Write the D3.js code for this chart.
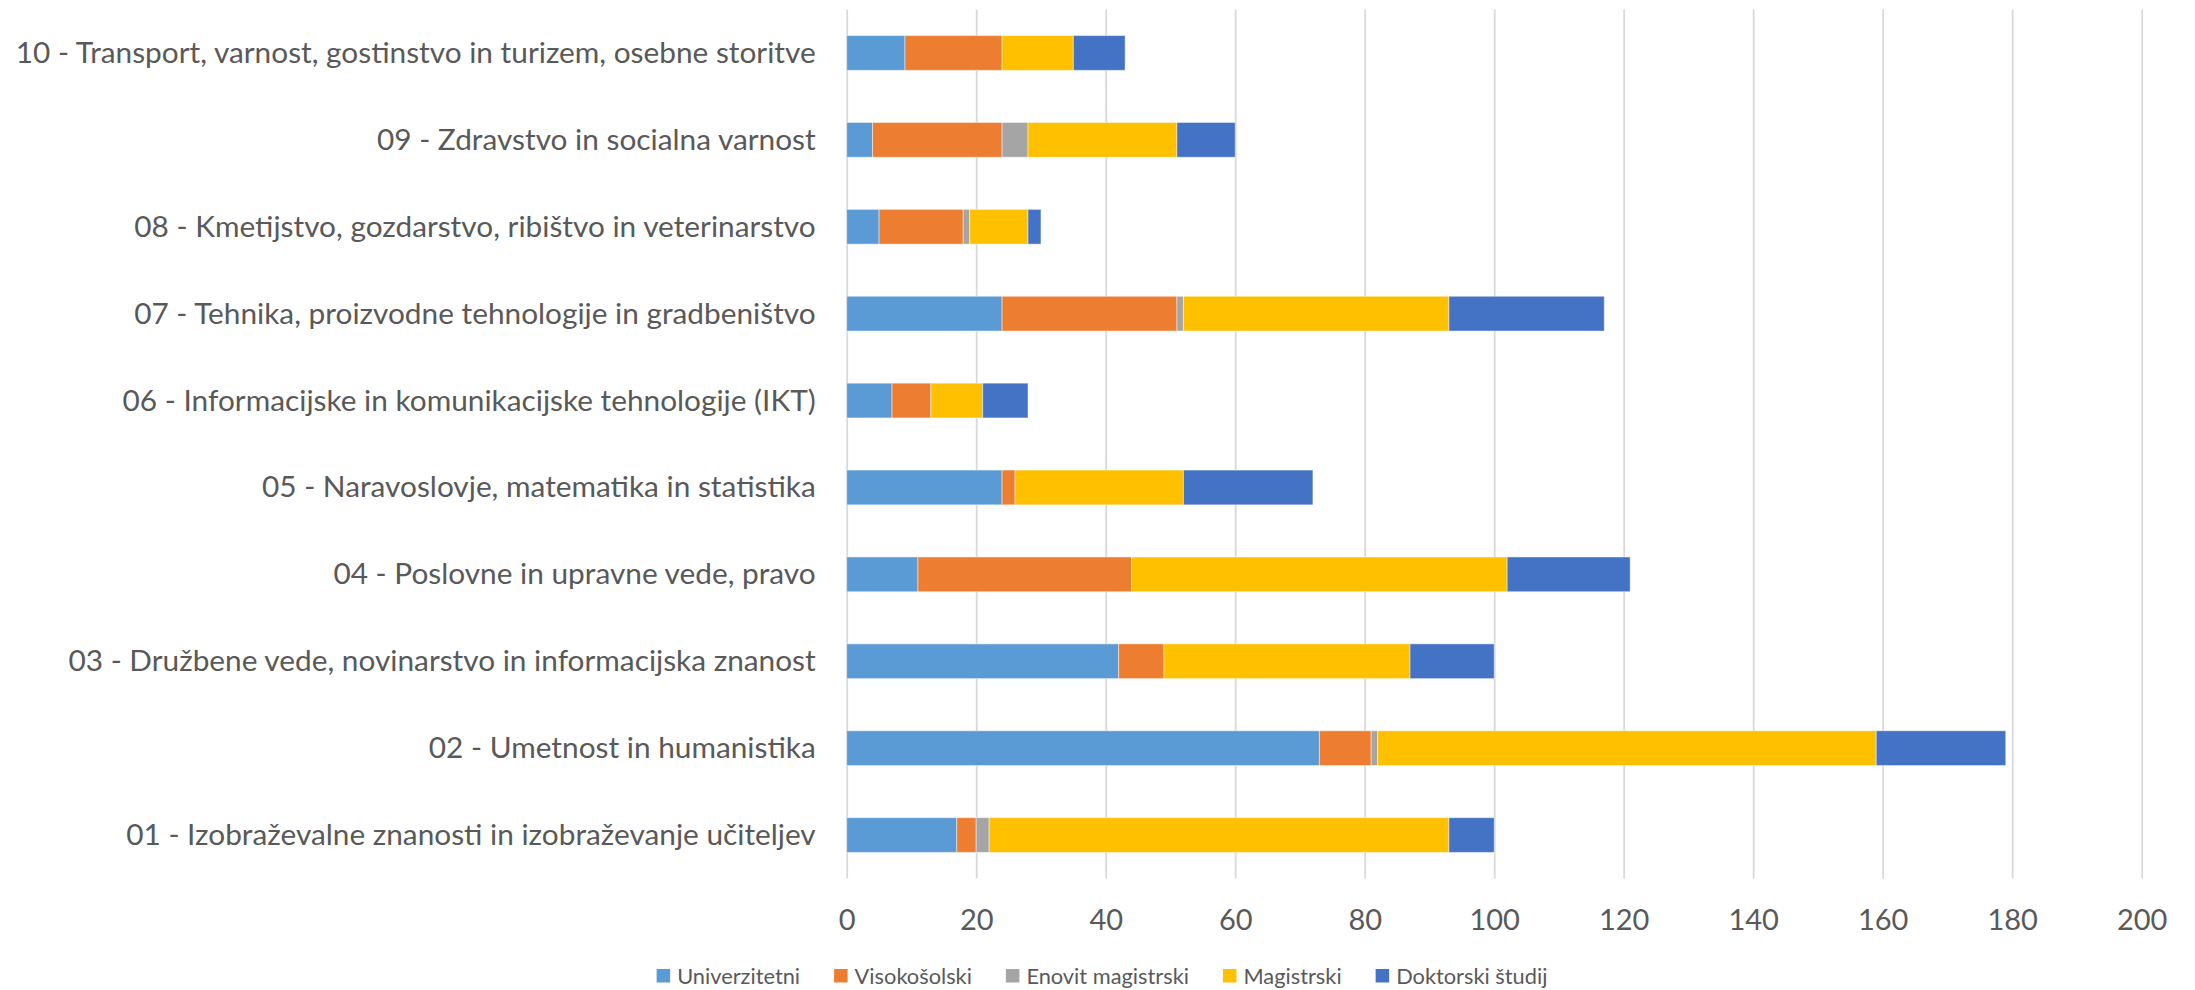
<!DOCTYPE html>
<html>
<head>
<meta charset="utf-8">
<script src="https://cdn.jsdelivr.net/npm/d3@7/dist/d3.min.js"></script>
<style>
  html, body { margin: 0; padding: 0; background: #ffffff; }
  svg { display: block; }
  text { font-family: Lato, "Open Sans", sans-serif; fill: #595959; }
</style>
</head>
<body>
<svg id="chart" width="2195" height="990"></svg>
<script>
const categories = [
  "01 - Izobraževalne znanosti in izobraževanje učiteljev",
  "02 - Umetnost in humanistika",
  "03 - Družbene vede, novinarstvo in informacijska znanost",
  "04 - Poslovne in upravne vede, pravo",
  "05 - Naravoslovje, matematika in statistika",
  "06 - Informacijske in komunikacijske tehnologije (IKT)",
  "07 - Tehnika, proizvodne tehnologije in gradbeništvo",
  "08 - Kmetijstvo, gozdarstvo, ribištvo in veterinarstvo",
  "09 - Zdravstvo in socialna varnost",
  "10 - Transport, varnost, gostinstvo in turizem, osebne storitve"
];
const seriesNames = ["Univerzitetni", "Visokošolski", "Enovit magistrski", "Magistrski", "Doktorski študij"];
const univerzitetni = [17, 73, 42, 11, 24, 7, 24, 5, 4, 9];
const visokosolski  = [3, 8, 7, 33, 2, 6, 27, 13, 20, 15];
const enovitMagistrski = [2, 1, 0, 0, 0, 0, 1, 1, 4, 0];
const magistrski    = [71, 77, 38, 58, 26, 8, 41, 9, 23, 11];
const doktorski     = [7, 20, 13, 19, 20, 7, 24, 2, 9, 8];
const tickValues = [0, 20, 40, 60, 80, 100, 120, 140, 160, 180, 200];
const colors = ["#5B9BD5", "#ED7D31", "#A5A5A5", "#FFC000", "#4472C4"];

const seriesValues = [univerzitetni, visokosolski, enovitMagistrski, magistrski, doktorski];
const table = categories.map((c, i) => {
  const row = { category: c };
  seriesNames.forEach((s, j) => { row[s] = seriesValues[j][i]; });
  return row;
});

const svg = d3.select("#chart");
const plotLeft = 846.7, plotRight = 2141.7, plotTop = 9.5, plotBottom = 878.5;

const x = d3.scaleLinear().domain([0, 200]).range([plotLeft, plotRight]);
const y = d3.scaleBand()
  .domain(categories.slice().reverse())
  .range([plotTop, plotBottom])
  .paddingInner(0.6)
  .paddingOuter(0.3);
const color = d3.scaleOrdinal().domain(seriesNames).range(colors);

// gridlines
const grid = svg.append("g")
  .attr("transform", `translate(0,${plotBottom})`)
  .call(d3.axisBottom(x).tickValues(tickValues).tickSize(-(plotBottom - plotTop)).tickFormat(""));
grid.select(".domain").remove();
grid.selectAll("line").attr("stroke", "#D9D9D9").attr("stroke-width", 1.8);

// bars
const stacked = d3.stack().keys(seriesNames)(table);
svg.append("g").selectAll("g")
  .data(stacked)
  .join("g")
  .attr("fill", d => color(d.key))
  .selectAll("rect")
  .data(d => d.filter(p => p[1] - p[0] > 0))
  .join("rect")
  .attr("x", d => x(d[0]))
  .attr("width", d => x(d[1]) - x(d[0]))
  .attr("y", d => y(d.data.category))
  .attr("height", y.bandwidth())
  .attr("stroke", "#ffffff")
  .attr("stroke-opacity", 0.45)
  .attr("stroke-width", 1);

// x axis labels
const xAxis = svg.append("g")
  .attr("transform", `translate(0,${plotBottom})`)
  .call(d3.axisBottom(x).tickValues(tickValues).tickSize(0).tickPadding(0));
xAxis.select(".domain").remove();
xAxis.selectAll("text")
  .attr("y", 51)
  .attr("dy", null)
  .style("font-size", "29px")
  .style("font-family", "Lato, sans-serif")
  .attr("fill", "#595959");

// category labels
const yAxis = svg.append("g")
  .attr("transform", `translate(${plotLeft},0)`)
  .call(d3.axisLeft(y).tickSize(0).tickPadding(31));
yAxis.select(".domain").remove();
yAxis.selectAll("text")
  .attr("dy", null)
  .attr("y", 10)
  .style("font-size", "29.8px")
  .style("font-family", "Lato, sans-serif")
  .attr("fill", "#595959");

// legend
const legend = svg.append("g");
const items = legend.selectAll("g").data(seriesNames).join("g");
items.append("rect").attr("width", 13.5).attr("height", 13.5).attr("y", 969).attr("fill", d => color(d));
items.append("text").attr("x", 20.5).attr("y", 983.5)
  .style("font-size", "21.8px").text(d => d);
let cx = 0;
items.each(function () {
  const w = 20.5 + d3.select(this).select("text").node().getComputedTextLength();
  d3.select(this).attr("transform", `translate(${cx},0)`);
  cx += w + 34;
});
const total = cx - 34;
legend.attr("transform", `translate(${1102 - total / 2},0)`);
</script>
</body>
</html>
